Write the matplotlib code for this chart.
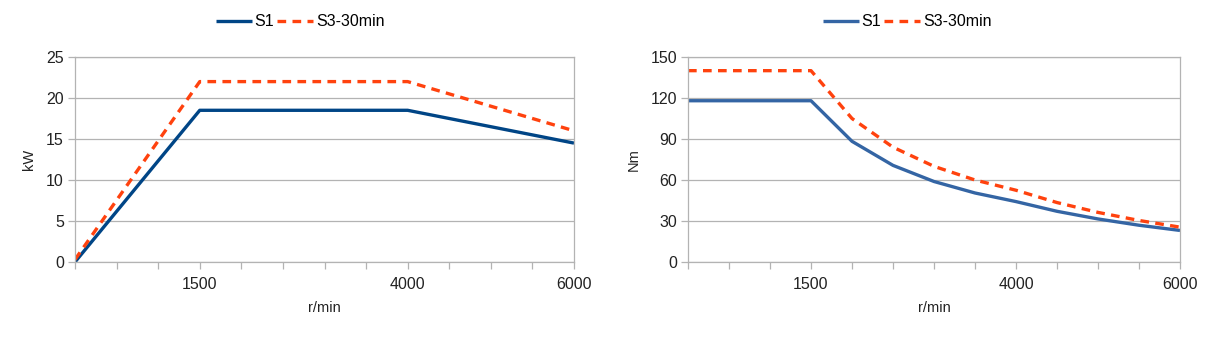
import matplotlib
matplotlib.use("Agg")
import matplotlib.pyplot as plt

plt.rcParams['font.family'] = ['Liberation Sans', 'DejaVu Sans']

# Speed points (r/min)
speed = [0, 500, 1000, 1500, 2000, 2500, 3000, 3500, 4000, 4500, 5000, 5500, 6000]
speed_labels = {1500: "1500", 4000: "4000", 6000: "6000"}

# Power curve (kW)
power_speed = [0, 1500, 4000, 6000]
power_s1 = [0.0, 18.5, 18.5, 14.5]
power_s3 = [0.3, 22.0, 22.0, 16.0]

# Torque curve (Nm)
torque_s1 = [118, 118, 118, 118, 88.3, 70.7, 58.9, 50.5, 44.2, 37.1, 31.5, 26.9, 23.1]
torque_s3 = [140, 140, 140, 140, 105, 84.0, 70.0, 60.0, 52.5, 43.5, 36.3, 30.4, 25.5]

ORANGE = "#ff420e"
GRID = "#b3b3b3"
TEXT = "#222222"
DASH = (0, (2.6, 1.9))

W, H = 1207, 339
fig = plt.figure(figsize=(W / 100, H / 100), dpi=100)
ax1 = fig.add_axes([75 / W, 1 - 262 / H, (574 - 75) / W, (262 - 57) / H])
ax2 = fig.add_axes([688 / W, 1 - 262 / H, (1180 - 688) / W, (262 - 57) / H])


def style(ax, ymax, ystep, ylabel):
    ax.set_xlim(0, 6000)
    ax.set_ylim(0, ymax)
    ax.set_yticks(range(0, ymax + 1, ystep))
    ax.set_xticks(speed)
    ax.set_xticklabels([speed_labels.get(s, "") for s in speed])
    ax.grid(axis="y", color=GRID, lw=0.9)
    ax.set_axisbelow(True)
    for sp in ax.spines.values():
        sp.set_color(GRID)
        sp.set_linewidth(0.9)
    ax.tick_params(axis="both", colors=GRID, labelcolor=TEXT, labelsize=11.5,
                   length=5, width=0.9, direction="out")
    ax.tick_params(axis="x", pad=6)
    ax.tick_params(axis="y", pad=3)
    ax.set_xlabel("r/min", fontsize=10.5, color=TEXT, labelpad=6)
    ax.set_ylabel(ylabel, fontsize=10.5, color=TEXT, labelpad=7)


ax1.plot(power_speed, power_s1, color="#004586", lw=2.4, label="S1", solid_capstyle="butt")
ax1.plot(power_speed, power_s3, color=ORANGE, lw=2.4, ls=DASH, label="S3-30min")
style(ax1, 25, 5, "kW")

ax2.plot(speed, torque_s1, color="#3465a4", lw=2.4, label="S1", solid_capstyle="butt")
ax2.plot(speed, torque_s3, color=ORANGE, lw=2.4, ls=DASH, label="S3-30min")
style(ax2, 150, 30, "Nm")

# Legends sit above each chart, centred on the whole chart block
for ax, cx in ((ax1, 300), (ax2, 907)):
    ax.legend(loc="center", bbox_to_anchor=(cx / W, 1 - 22 / H),
              bbox_transform=fig.transFigure, ncol=2, frameon=False,
              fontsize=11.5, handlelength=2.3, handletextpad=0.15, columnspacing=0.15,
              borderaxespad=0, borderpad=0)

fig.savefig("out.png", dpi=100, facecolor="white")
